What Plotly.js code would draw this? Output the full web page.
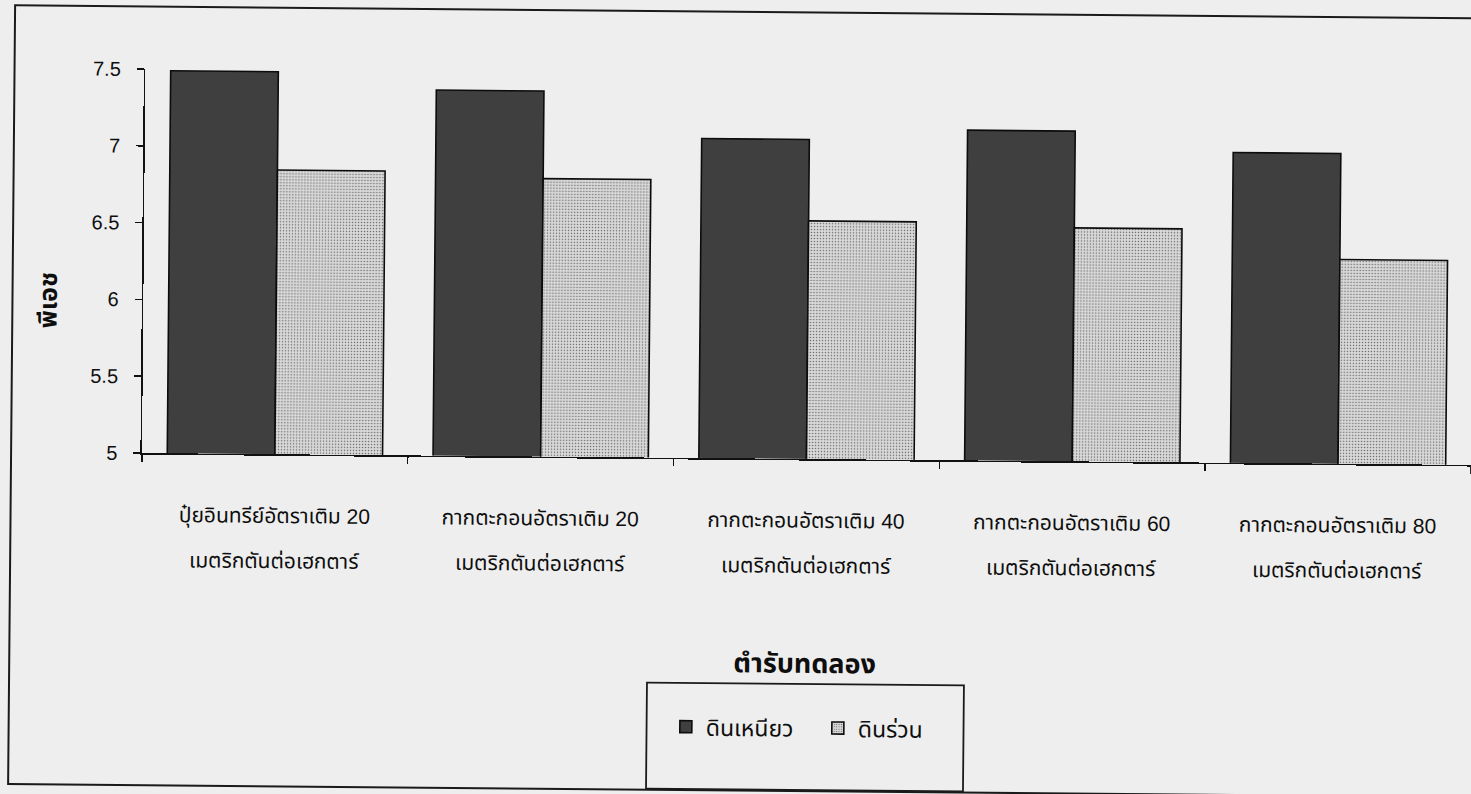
<!DOCTYPE html>
<html>
<head>
<meta charset="utf-8">
<script src="https://cdn.plot.ly/plotly-3.0.1.min.js"></script>
<style>
  html, body { margin: 0; padding: 0; background: #eeeeee; overflow: hidden; }
  /* the printed page sits slightly skewed, turned about the axis origin */
  #chart { width: 1471px; height: 794px; transform: rotate(0.515deg); transform-origin: 142px 453px; }
</style>
</head>
<body>
<div id="chart"></div>
<script>
// Treatments (two-line labels)
const treatLine1 = [
  'ปุ๋ยอินทรีย์อัตราเติม 20',
  'กากตะกอนอัตราเติม 20',
  'กากตะกอนอัตราเติม 40',
  'กากตะกอนอัตราเติม 60',
  'กากตะกอนอัตราเติม 80'
];
const treatLine2 = [
  'เมตริกตันต่อเฮกตาร์',
  'เมตริกตันต่อเฮกตาร์',
  'เมตริกตันต่อเฮกตาร์',
  'เมตริกตันต่อเฮกตาร์',
  'เมตริกตันต่อเฮกตาร์'
];

// Soil pH per treatment
const clayName = 'ดินเหนียว';
const loamName = 'ดินร่วน';
const clayPH = [7.49, 7.38, 7.08, 7.15, 7.02];
const loamPH = [6.85, 6.81, 6.55, 6.52, 6.33];

// Value axis ticks
const yTickVals = [5, 5.5, 6, 6.5, 7, 7.5];
const yTickText = ['5', '5.5', '6', '6.5', '7', '7.5'];

const xTitle = 'ตำรับทดลอง';
const yTitle = 'พีเอช';

const categories = treatLine1.map((t, i) => t + ' ' + treatLine2[i]);

const FONT = "'Liberation Sans', Arial, 'Noto Sans Thai', Tahoma, sans-serif";
const INK = '#0e0e0e';
const LABEL_SIZE = 21;

const traces = [
  {
    type: 'bar', name: clayName, x: categories, y: clayPH,
    marker: { color: '#3f3f3f', line: { color: '#0c0c0c', width: 1.6 } }
  },
  {
    type: 'bar', name: loamName, x: categories, y: loamPH,
    marker: {
      color: '#d4d4d4',
      line: { color: '#0c0c0c', width: 1.6 },
      pattern: { shape: '.', fgcolor: '#6a6a6a', bgcolor: '#d9d9d9', size: 3, solidity: 0.2 }
    }
  }
];

// second line of each treatment label, hung under its category
const secondLines = categories.map((c, i) => ({
  xref: 'x', yref: 'paper', x: c, y: -0.2786,
  text: treatLine2[i], showarrow: false,
  xanchor: 'center', yanchor: 'middle',
  font: { family: FONT, size: LABEL_SIZE, color: INK }
}));

const layout = {
  width: 1471, height: 794,
  margin: { l: 142, r: 0, t: 69, b: 341 },
  paper_bgcolor: '#eeeeee',
  plot_bgcolor: 'rgba(0,0,0,0)',
  font: { family: FONT, size: LABEL_SIZE, color: INK },
  barmode: 'group',
  bargap: 0.19,
  bargroupgap: 0,
  showlegend: true,
  legend: {
    orientation: 'h',
    x: 0.396, xanchor: 'left',
    y: -0.70, yanchor: 'middle',
    entrywidth: 107,
    bgcolor: 'rgba(0,0,0,0)',
    borderwidth: 0,
    font: { family: FONT, size: 23, color: INK },
    traceorder: 'normal'
  },
  xaxis: {
    type: 'category',
    tickvals: categories,
    ticktext: treatLine1,
    tickson: 'boundaries',
    ticks: 'outside', ticklen: 7, tickwidth: 1.5, tickcolor: '#111',
    ticklabelstandoff: 42,
    showline: true, linecolor: '#111', linewidth: 1.6,
    showgrid: false, zeroline: false,
    tickfont: { family: FONT, size: LABEL_SIZE, color: INK },
    title: { text: xTitle, standoff: 121, font: { family: FONT, size: 27, color: INK, weight: 'bold' } },
    automargin: false
  },
  yaxis: {
    range: [5, 7.5],
    tickvals: yTickVals,
    ticktext: yTickText,
    ticks: 'outside', ticklen: 7, tickwidth: 1.5, tickcolor: '#111',
    ticklabelstandoff: 12,
    showline: true, linecolor: '#111', linewidth: 1.6,
    showgrid: false, zeroline: false,
    tickfont: { family: FONT, size: 20, color: INK },
    automargin: false
  },
  annotations: [
    {
      xref: 'paper', yref: 'paper', x: -0.072, y: 0.396,
      text: yTitle, showarrow: false, textangle: -90,
      xanchor: 'center', yanchor: 'middle',
      font: { family: FONT, size: 25, color: INK, weight: 'bold' }
    }
  ].concat(secondLines),
  shapes: [
    // outer frame
    { type: 'rect', xref: 'paper', yref: 'paper', x0: -0.0985, x1: 1.03, y0: -0.865, y1: 1.163,
      line: { color: '#1a1a1a', width: 2 }, fillcolor: 'rgba(0,0,0,0)', layer: 'below' },
    // legend frame
    { type: 'rect', xref: 'paper', yref: 'paper', x0: 0.3815, x1: 0.620, y0: -0.862, y1: -0.586,
      line: { color: '#1a1a1a', width: 1.8 }, fillcolor: 'rgba(0,0,0,0)', layer: 'below' }
  ]
};

Plotly.newPlot('chart', traces, layout, { displayModeBar: false, staticPlot: true });
</script>
</body>
</html>
